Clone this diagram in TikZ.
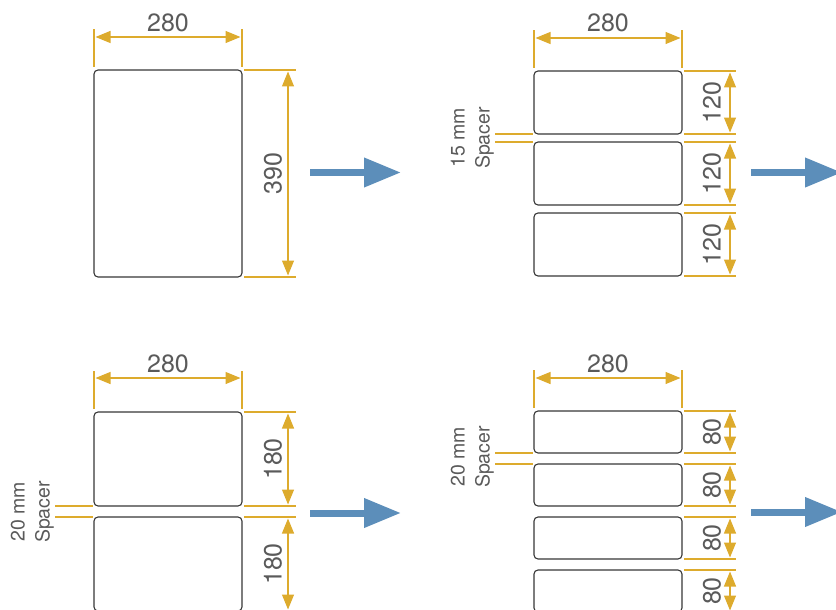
\documentclass[tikz,border=0pt]{standalone}
\usepackage{fontspec}
\setmainfont{TeX Gyre Heros}
\usetikzlibrary{arrows.meta,positioning}
\definecolor{dimgold}{RGB}{221,171,45}
\definecolor{flowblue}{RGB}{92,142,186}
\definecolor{sheetgray}{RGB}{55,55,55}
\definecolor{textgray}{RGB}{90,90,90}

\begin{document}
\begin{tikzpicture}[x=1pt,y=-1pt]
 	\tikzstyle{sheet}=[rectangle, rounded corners=4pt, draw=sheetgray, line width=1.1pt, fill=white, minimum width=148pt, inner sep=0pt, outer sep=0pt]
 	\tikzstyle{ext}=[dimgold, line width=1.2pt]
 	\tikzstyle{dim}=[dimgold, line width=1.2pt, shorten <=1.5pt, shorten >=1.5pt, {Triangle[length=15pt,width=12pt]}-{Triangle[length=15pt,width=12pt]}]
 	\tikzstyle{flow}=[flowblue, line width=7pt, -{Triangle[length=37pt,width=28pt]}]
 	\tikzstyle{lbl}=[text=textgray, font=\fontsize{25}{28}\selectfont, inner sep=0pt]
 	\tikzstyle{spacer}=[text=textgray, font=\fontsize{19.5}{25}\selectfont, align=center, inner sep=0pt, rotate=90, anchor=south]
 	\useasboundingbox (0,0) rectangle (836,610);
 	\clip (0,0) rectangle (836,610);
 	% one sheet, 280 x 390
 	\node[sheet, minimum height=207pt] (a1) at (168,173.5) {};
 	\draw[ext] ([yshift=3pt]a1.north west) -- ([yshift=41pt]a1.north west);
 	\draw[ext] ([yshift=3pt]a1.north east) -- ([yshift=41pt]a1.north east);
 	\draw[dim] ([yshift=33pt]a1.north west) -- ([yshift=33pt]a1.north east);
 	\node[lbl] (a1w) at ([yshift=47pt]a1.north) {280};
 	\draw[ext] ([xshift=2pt]a1.north east) -- ([xshift=54pt]a1.north east);
 	\draw[ext] ([xshift=2pt]a1.south east) -- ([xshift=54pt]a1.south east);
 	\draw[dim] ([xshift=46pt]a1.north east) -- ([xshift=46pt]a1.south east);
 	\node[lbl, rotate=90] (a1h) at ([xshift=31pt]a1.east) {390};
 	\draw[flow] ([xshift=68pt,yshift=1pt]a1.east) -- ([xshift=159pt,yshift=1pt]a1.east);
 	% three sheets, 15 mm spacer
 	\node[sheet, minimum height=63pt] (b1) at (608,102.5) {};
 	\node[sheet, minimum height=63pt, below=8pt of b1] (b2) {};
 	\node[sheet, minimum height=63pt, below=8pt of b2] (b3) {};
 	\draw[ext] ([yshift=3pt]b1.north west) -- ([yshift=41pt]b1.north west);
 	\draw[ext] ([yshift=3pt]b1.north east) -- ([yshift=41pt]b1.north east);
 	\draw[dim] ([yshift=33pt]b1.north west) -- ([yshift=33pt]b1.north east);
 	\node[lbl] (b1w) at ([yshift=48pt]b1.north) {280};
 	\draw[ext] ([xshift=2pt]b1.north east) -- ([xshift=54pt]b1.north east);
 	\draw[ext] ([xshift=2pt]b1.south east) -- ([xshift=54pt]b1.south east);
 	\draw[dim] ([xshift=48pt]b1.north east) -- ([xshift=48pt]b1.south east);
 	\node[lbl, rotate=90] (b1h) at ([xshift=30pt]b1.east) {120};
 	\draw[ext] ([xshift=2pt]b2.north east) -- ([xshift=54pt]b2.north east);
 	\draw[ext] ([xshift=2pt]b2.south east) -- ([xshift=54pt]b2.south east);
 	\draw[dim] ([xshift=48pt]b2.north east) -- ([xshift=48pt]b2.south east);
 	\node[lbl, rotate=90] (b2h) at ([xshift=30pt]b2.east) {120};
 	\draw[ext] ([xshift=2pt]b3.north east) -- ([xshift=54pt]b3.north east);
 	\draw[ext] ([xshift=2pt]b3.south east) -- ([xshift=54pt]b3.south east);
 	\draw[dim] ([xshift=48pt]b3.north east) -- ([xshift=48pt]b3.south east);
 	\node[lbl, rotate=90] (b3h) at ([xshift=30pt]b3.east) {120};
 	\draw[ext] ([xshift=-39pt]b1.south west) -- ([xshift=-1pt]b1.south west);
 	\draw[ext] ([xshift=-39pt]b2.north west) -- ([xshift=-1pt]b2.north west);
 	\node[spacer] (bsp) at (494,138) {15 mm\\Spacer};
 	\draw[flow] ([xshift=69pt,yshift=1pt]b2.east) -- ([xshift=160pt,yshift=1pt]b2.east);
 	% two sheets, 20 mm spacer
 	\node[sheet, minimum height=94pt] (c1) at (168,459) {};
 	\node[sheet, minimum height=94pt, below=11pt of c1] (c2) {};
 	\draw[ext] ([yshift=3pt]c1.north west) -- ([yshift=41pt]c1.north west);
 	\draw[ext] ([yshift=3pt]c1.north east) -- ([yshift=41pt]c1.north east);
 	\draw[dim] ([yshift=34pt]c1.north west) -- ([yshift=34pt]c1.north east);
 	\node[lbl] (c1w) at ([yshift=48pt]c1.north) {280};
 	\draw[ext] ([xshift=2pt]c1.north east) -- ([xshift=54pt]c1.north east);
 	\draw[ext] ([xshift=2pt]c1.south east) -- ([xshift=54pt]c1.south east);
 	\draw[dim] ([xshift=46pt]c1.north east) -- ([xshift=46pt]c1.south east);
 	\node[lbl, rotate=90] (c1h) at ([xshift=31pt]c1.east) {180};
 	\draw[ext] ([xshift=2pt]c2.north east) -- ([xshift=54pt]c2.north east);
 	\draw[dim] ([xshift=46pt]c2.north east) -- ([xshift=46pt]c2.south east);
 	\node[lbl, rotate=90] (c2h) at ([xshift=31pt]c2.east) {180};
 	\draw[ext] ([xshift=-39pt]c1.south west) -- ([xshift=-1pt]c1.south west);
 	\draw[ext] ([xshift=-39pt]c2.north west) -- ([xshift=-1pt]c2.north west);
 	\node[spacer] (csp) at (54,512) {20 mm\\Spacer};
 	\draw[flow] ([xshift=68pt,yshift=-7pt]c1.south east) -- ([xshift=159pt,yshift=-7pt]c1.south east);
 	% four sheets, 20 mm spacer
 	\node[sheet, minimum height=42pt] (d1) at (608,432) {};
 	\node[sheet, minimum height=42pt, below=11pt of d1] (d2) {};
 	\node[sheet, minimum height=42pt, below=11pt of d2] (d3) {};
 	\node[sheet, minimum height=42pt, below=11pt of d3] (d4) {};
 	\draw[ext] ([yshift=3pt]d1.north west) -- ([yshift=41pt]d1.north west);
 	\draw[ext] ([yshift=3pt]d1.north east) -- ([yshift=41pt]d1.north east);
 	\draw[dim] ([yshift=33pt]d1.north west) -- ([yshift=33pt]d1.north east);
 	\node[lbl] (d1w) at ([yshift=47pt]d1.north) {280};
 	\draw[ext] ([xshift=2pt]d1.north east) -- ([xshift=54pt]d1.north east);
 	\draw[ext] ([xshift=2pt]d1.south east) -- ([xshift=54pt]d1.south east);
 	\draw[dim] ([xshift=48pt]d1.north east) -- ([xshift=48pt]d1.south east);
 	\node[lbl, rotate=90] (d1h) at ([xshift=30pt]d1.east) {80};
 	\draw[ext] ([xshift=2pt]d2.north east) -- ([xshift=54pt]d2.north east);
 	\draw[ext] ([xshift=2pt]d2.south east) -- ([xshift=54pt]d2.south east);
 	\draw[dim] ([xshift=48pt]d2.north east) -- ([xshift=48pt]d2.south east);
 	\node[lbl, rotate=90] (d2h) at ([xshift=30pt]d2.east) {80};
 	\draw[ext] ([xshift=2pt]d3.north east) -- ([xshift=54pt]d3.north east);
 	\draw[ext] ([xshift=2pt]d3.south east) -- ([xshift=54pt]d3.south east);
 	\draw[dim] ([xshift=48pt]d3.north east) -- ([xshift=48pt]d3.south east);
 	\node[lbl, rotate=90] (d3h) at ([xshift=30pt]d3.east) {80};
 	\draw[ext] ([xshift=2pt]d4.north east) -- ([xshift=54pt]d4.north east);
 	\draw[dim] ([xshift=48pt]d4.north east) -- ([xshift=48pt]d4.south east);
 	\node[lbl, rotate=90] (d4h) at ([xshift=30pt]d4.east) {80};
 	\draw[ext] ([xshift=-39pt]d1.south west) -- ([xshift=-1pt]d1.south west);
 	\draw[ext] ([xshift=-39pt]d2.north west) -- ([xshift=-1pt]d2.north west);
 	\node[spacer] (dsp) at (494,457) {20 mm\\Spacer};
 	\draw[flow] ([xshift=69pt,yshift=-6pt]d2.south east) -- ([xshift=160pt,yshift=-6pt]d2.south east);
\end{tikzpicture}
\end{document}
